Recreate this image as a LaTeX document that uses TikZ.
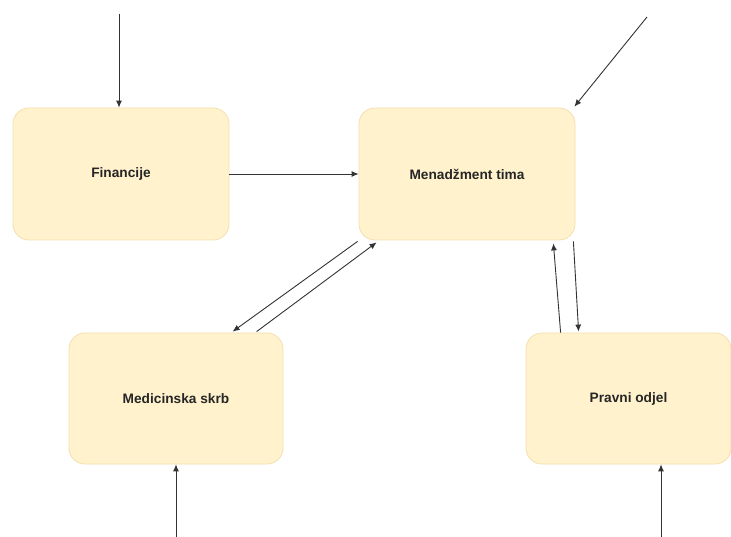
\documentclass[tikz,border=0pt]{standalone}
\usepackage{fontspec}
\setmainfont{Liberation Sans}
\usetikzlibrary{arrows.meta,calc}
\definecolor{boxfill}{HTML}{FFF2CC}
\definecolor{boxline}{HTML}{F3E0AE}
\definecolor{linecol}{HTML}{333333}
\tikzset{
  box/.style={draw=boxline, fill=boxfill, rounded corners=16pt, line width=0.8pt,
    font=\fontsize{13.7}{16}\selectfont\bfseries, text=black!85, inner sep=0pt},
  conn/.style={draw=linecol, line width=0.9pt, -{Latex[length=7pt,width=6pt]}}
}
\begin{document}
\begin{tikzpicture}[x=1pt,y=-1pt]
\useasboundingbox[fill=white] (0,0) rectangle (731,537);
\node[box, minimum width=216pt, minimum height=132pt] (fin) at (121,174) {Financije};
\node[box, minimum width=216pt, minimum height=132pt] (mt) at (467,174) {Menadžment tima};
\node[box, minimum width=214pt, minimum height=131pt] (med) at (176,398.5) {Medicinska skrb};
\node[box, minimum width=205pt, minimum height=131pt] (pr) at (628.5,398.5) {Pravni odjel};
\coordinate (s1) at (119,14);
\coordinate (s2) at (647,17);
\coordinate (s3) at (176,537);
\coordinate (s4) at (661,537);
\draw[conn] (s1) -- (s1 |- fin.north);
\draw[conn] (fin.east) -- (mt.west);
\draw[conn] (s2) -- ($(mt.north east)+(-1,-1)$);
\draw[conn] ($(mt.south west)+(-1,1)$) -- ($(med.north west)+(164,-1)$);
\draw[conn] ($(med.north west)+(188,-1)$) -- ($(mt.south west)+(18,2)$);
\draw[conn] ($(pr.north west)+(35,0)$) -- ($(mt.south east)+(-22,3)$);
\draw[conn] ($(mt.south east)+(-2,1)$) -- ($(pr.north west)+(53,-1)$);
\draw[conn] (s3) -- (s3 |- med.south);
\draw[conn] (s4) -- (s4 |- pr.south);
\end{tikzpicture}
\end{document}
